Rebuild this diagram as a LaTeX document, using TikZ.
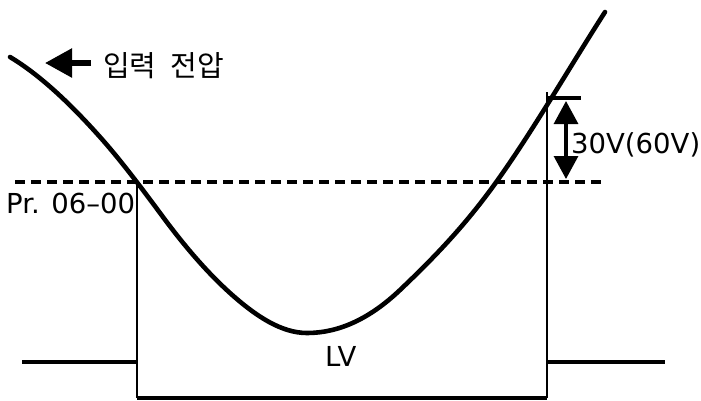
\documentclass[tikz,border=0pt]{standalone}
\usepackage{fontspec}
\setmainfont{DejaVu Sans}
\newfontfamily\krfont{Noto Sans CJK KR}
\usetikzlibrary{arrows.meta}
\begin{document}
\begin{tikzpicture}[x=1pt,y=-1pt,
  curveline/.style={line width=4.6pt, line cap=round},
  thickline/.style={line width=4.6pt},
  thinline/.style={line width=2pt},
  dashline/.style={line width=4pt, dash pattern=on 10pt off 6pt},
  lbl/.style={inner sep=0pt, anchor=base west, font=\fontsize{27.5}{32}\selectfont},
  bigtip/.style={line width=3.2pt, {Triangle[length=23pt,width=24pt]}-{Triangle[length=23pt,width=24pt]}},
  intip/.style={line width=5.5pt, -{Triangle[length=27pt,width=28pt]}}
]
\useasboundingbox (0,0) rectangle (701,400);
% input voltage curve
\draw[curveline] (10,57)
  .. controls (40,75) and (70,103.4) .. (100,137)
  .. controls (121,160.5) and (142,188.65) .. (163,217)
  .. controls (185.3,247.15) and (207.7,272.9) .. (230,293)
  .. controls (255.7,316.1) and (281.3,333) .. (307,333)
  .. controls (338,333) and (369,319.45) .. (400,290)
  .. controls (432.3,259.3) and (464.7,226.3) .. (497,181)
  .. controls (533,130.6) and (569,68.2) .. (605,12);
% level line
\coordinate (dl) at (15,182);
\coordinate (dr) at (604,182);
\draw[dashline] (dl) -- (dr);
% LV pulse
\coordinate (lowL) at (22,362);
\coordinate (a) at (137,362);
\coordinate (aTop) at (137,181);
\coordinate (aBot) at (137,398);
\coordinate (b) at (547,362);
\coordinate (bTop) at (547,92);
\coordinate (bBot) at (547,398);
\coordinate (lowR) at (665,362);
\draw[thinline] (aTop) -- (aBot);
\draw[thinline] (bTop) -- (bBot);
\draw[thickline] (lowL) -- (a);
\draw[thickline] (b) -- (lowR);
\draw[line width=4pt] (aBot) -- (bBot);
% 30V tick and arrow
\coordinate (t1) at (547,98);
\coordinate (t2) at (581,98);
\draw[thickline] (t1) -- (t2);
\coordinate (u1) at (566,101);
\coordinate (u2) at (566,179);
\draw[bigtip] (u1) -- (u2);
% input arrow
\coordinate (inA) at (91,63);
\coordinate (inTip) at (45,63);
\draw[intip] (inA) -- (inTip);
% labels
\node[inner sep=0pt, anchor=base west] (kr) at (103,76) {\krfont\fontsize{29}{34}\selectfont 입력\hspace{14pt}전압};
\node[lbl] (pr) at (6,213) {Pr. 06–00};
\node[lbl] (v30) at (571,153) {30V(60V)};
\node[lbl] (lv) at (325,366) {LV};
\end{tikzpicture}
\end{document}
